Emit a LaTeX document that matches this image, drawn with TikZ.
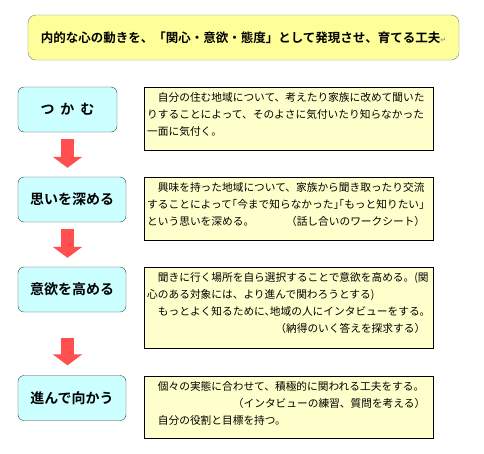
\documentclass[tikz,border=0pt]{standalone}
\usepackage{fontspec}
\setmainfont{Noto Sans CJK JP}[BoldFont={Noto Sans CJK JP Bold}]
\newfontfamily\halffont{Noto Sans CJK JP}[RawFeature=+halt]
\newfontfamily\symfont{DejaVu Sans}
\usetikzlibrary{arrows.meta}

\definecolor{titlefill}{HTML}{FFFF99}
\definecolor{stepfill}{HTML}{CCFFFF}
\definecolor{notefill}{HTML}{FFFFCC}
\definecolor{flowred}{HTML}{FF4F4F}

\begin{document}
\begin{tikzpicture}[
    x=1pt, y=-1pt,
    headline/.style={draw=black!50, fill=titlefill, rounded corners=8pt,
                     minimum width=431pt, minimum height=45pt,
                     font=\bfseries\fontsize{12.5}{15}\selectfont},
    stepbox/.style={draw=black!75, fill=stepfill, rounded corners=6pt,
                    minimum height=45pt, inner sep=0pt,
                    font=\bfseries\fontsize{14}{17}\selectfont},
    notebox/.style={draw=black, fill=notefill, anchor=north west,
                    minimum width=289pt, inner sep=0pt},
    notetext/.style={anchor=north west, text width=278pt, align=left,
                     inner xsep=3pt, inner ysep=5pt,
                     font=\fontsize{10.7}{17}\selectfont},
    flow/.style={draw=flowred, line width=13pt,
                 -{Triangle[width=29pt, length=11pt]}},
]
\useasboundingbox[fill=white] (0,0) rectangle (484,453);

% Title
\node[headline] (title) at (243.5,37.5)
    {内的な心の動きを、「関心・意欲・態度」として発現させ、育てる工夫{\symfont\fontsize{7}{7}\selectfont\color{black!40}↵}};

% Steps -- left column
\node[stepbox, minimum width=99pt]  (k1) at (67.5,109.5) {つ\hspace{6pt}か\hspace{6pt}む};
\node[stepbox, minimum width=108pt] (k2) at (72,199.5)   {思いを深める};
\node[stepbox, minimum width=108pt] (k3) at (72,289.5)   {意欲を高める};
\node[stepbox, minimum width=108pt] (k4) at (72,398)     {進んで向かう};

% Notes -- right column
\node[notebox, minimum height=63pt] (n1) at (144,87)  {};
\node[notebox, minimum height=63pt] (n2) at (144,177) {};
\node[notebox, minimum height=81pt] (n3) at (144,267) {};
\node[notebox, minimum height=62pt] (n4) at (144,376) {};

\node[notetext] (t1) at (n1.north west)
    {　自分の住む地域について、考えたり家族に改めて聞いた\\
     りすることによって、そのよさに気付いたり知らなかった\\
     一面に気付く。};
\node[notetext] (t2) at (n2.north west)
    {　興味を持った地域について、家族から聞き取ったり交流\\
     {\halffont することによって「今まで知らなかった」「もっと知りたい」}\\
     という思いを深める。\hfill（話し合いのワークシート）\hspace*{3pt}};
\node[notetext] (t3) at (n3.north west)
    {　聞きに行く場所を自ら選択することで意欲を高める。(関\\
     心のある対象には、より進んで関わろうとする)\\
     {\halffont 　もっとよく知るために、地域の人にインタビューをする。}\\
     \hfill（納得のいく答えを探求する）\hspace*{7pt}};
\node[notetext] (t4) at (n4.north west)
    {　個々の実態に合わせて、積極的に関われる工夫をする。\\
     \hfill（インタビューの練習、質問を考える）\hspace*{3pt}\\
     　自分の役割と目標を持つ。};

% Flow arrows
\draw[flow, shorten <=7pt, shorten >=9pt]   (k1.south) -- (k1.south |- k2.north);
\draw[flow, shorten <=7pt, shorten >=9pt]   (k1.south |- k2.south) -- (k1.south |- k3.north);
\draw[flow, shorten <=26pt, shorten >=10pt] (k1.south |- k3.south) -- (k1.south |- k4.north);

\end{tikzpicture}
\end{document}
